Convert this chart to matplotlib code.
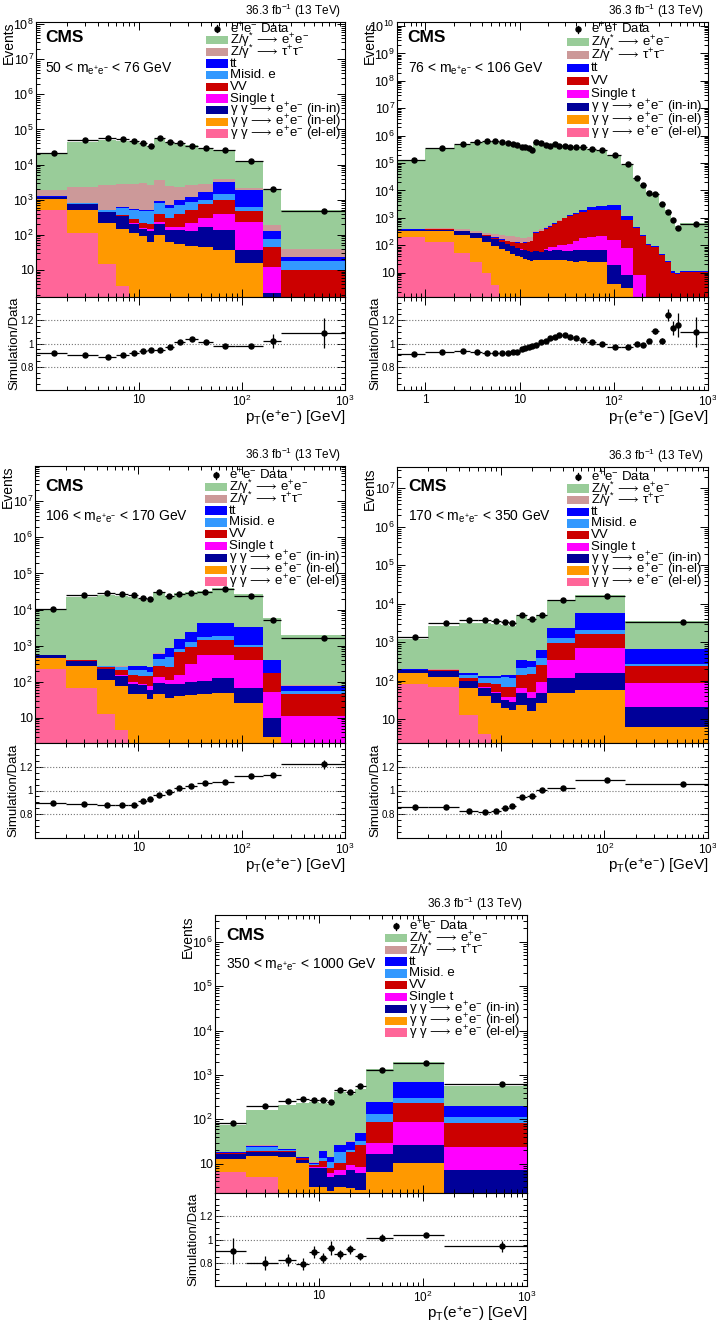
import numpy as np
import matplotlib
matplotlib.use('Agg')
import matplotlib.pyplot as plt
from matplotlib.ticker import FixedLocator, LogLocator, FuncFormatter, MultipleLocator, NullFormatter
from matplotlib.patches import Rectangle

plt.rcParams['font.family'] = ['Liberation Sans', 'DejaVu Sans']
plt.rcParams['mathtext.fontset'] = 'custom'
plt.rcParams['mathtext.rm'] = 'Liberation Sans'
plt.rcParams['mathtext.it'] = 'Liberation Sans:italic'
plt.rcParams['mathtext.bf'] = 'Liberation Sans:bold'
plt.rcParams['mathtext.fallback'] = 'stixsans'
plt.rcParams['axes.linewidth'] = 0.8

# ---- 50 < m < 76 GeV
edges_50 = [1, 2, 4, 6, 8, 10, 12, 14, 18, 22, 28, 37, 52, 85, 160, 240, 1000]
data_50 = [2.2e4, 5.0e4, 5.7e4, 5.2e4, 4.7e4, 4.1e4, 3.5e4, 5.8e4, 4.4e4, 4.1e4, 3.5e4, 2.9e4, 2.6e4, 1.3e4, 2.0e3, 470]
ratio_50 = [0.92, 0.90, 0.885, 0.90, 0.915, 0.935, 0.945, 0.945, 0.97, 1.01, 1.035, 1.01, 0.975, 0.98, 1.02, 1.09]
rerr_50 = [0.006, 0.005, 0.005, 0.005, 0.005, 0.006, 0.006, 0.006, 0.006, 0.007, 0.007, 0.008, 0.008, 0.01, 0.06, 0.13]
zee_50 = [18380, 42760, 47750, 43950, 40240, 35435, 30375, 51260, 40180, 39110, 33655, 26440, 21550, 10540, 1850, 471]
ztt_50 = [620, 1440, 2175, 2230, 2200, 2400, 2200, 2640, 1770, 1320, 1370, 1200, 570, 340, 60, 18]
tt_50 = [10, 10, 10, 20, 35, 30, 30, 80, 130, 250, 330, 650, 1730, 1230, 56, 5]
misid_50 = [15, 30, 60, 225, 250, 252, 270, 425, 305, 325, 370, 260, 500, 160, 28, 7.5]
vv_50 = [10, 10, 12, 30, 55, 58, 55, 172, 125, 235, 285, 445, 595, 237, 34, 10]
st_50 = [3, 3, 3, 5, 10, 8, 16, 33, 30, 35, 85, 125, 270, 196, 10, 0.3]
inin_50 = [130, 215, 215, 190, 95, 60, 66, 104, 77, 80, 81, 126, 98, 21, 1.2, 0]
inel_50 = [545, 415, 210, 145, 114, 91, 63, 96, 63, 55, 49, 44, 37, 15.5, 1.0, 0]
elel_50 = [525, 110, 14.5, 3.5, 1, 0.5, 0.3, 0, 0, 0, 0, 0, 0, 0, 0, 0]

# ---- 76 < m < 106 GeV
edges_76 = [0.5, 1, 2, 3, 4, 5, 6, 7, 8, 9, 10, 11, 12, 13, 14, 16, 18, 20, 22, 25, 28, 32, 37, 43,
            52, 65, 85, 120, 160, 190, 220, 250, 300, 350, 400, 450, 500, 1000]
data_76 = [1.3e5, 3.5e5, 5.0e5, 6.1e5, 6.3e5, 6.3e5, 5.8e5, 5.3e5, 4.8e5, 4.4e5, 4.0e5, 3.7e5, 3.4e5,
           3.1e5, 6.0e5, 5.3e5, 4.6e5, 4.2e5, 5.0e5, 4.3e5, 4.2e5, 4.0e5, 3.9e5, 3.9e5, 3.3e5, 2.9e5,
           2.05e5, 8.9e4, 2.85e4, 1.55e4, 8.3e3, 7.3e3, 3.3e3, 1.6e3, 830, 435, 590]
ratio_76 = [0.911, 0.926, 0.934, 0.926, 0.92, 0.92, 0.917, 0.92, 0.929, 0.931, 0.949, 0.957, 0.971,
            0.98, 0.989, 1.011, 1.023, 1.049, 1.054, 1.071, 1.069, 1.057, 1.051, 1.029, 1.009, 0.994,
            0.974, 0.969, 0.994, 0.986, 1.02, 1.106, 1.02, 1.243, 1.134, 1.16, 1.10]
rerr_76 = [0.004, 0.003, 0.003, 0.003, 0.003, 0.003, 0.003, 0.003, 0.003, 0.003, 0.003, 0.003, 0.003,
           0.003, 0.003, 0.003, 0.003, 0.003, 0.003, 0.003, 0.003, 0.003, 0.003, 0.003, 0.003, 0.003,
           0.004, 0.005, 0.008, 0.01, 0.015, 0.02, 0.025, 0.05, 0.06, 0.1, 0.13]
zee_76 = [118030, 323680, 466620, 564530, 579310, 579350, 531630, 487380, 445710, 409440, 379410,
          353900, 329950, 303600, 593060, 535450, 470130, 440050, 526340, 459720, 447950, 421520,
          408330, 399350, 330560, 285450, 196770, 85040, 27850, 15040, 8360, 7970, 3326, 1963, 929, 495, 639]
ztt_76 = [20, 25, 35, 40, 50, 55, 65, 75, 75, 70, 65, 60, 60, 55, 45, 40, 30, 20, 20, 15, 10, 10, 10,
          10, 10, 10, 5, 2, 0, 0, 0, 0, 0, 0, 0, 0, 0]
tt_76 = [10, 10, 5, 5, 5, 5, 5, 5, 5, 5, 5, 5, 5, 5, 15, 15, 20, 30, 40, 50, 70, 120, 150, 250, 500,
         850, 960, 350, 40, 20, 10, 8, 4, 2, 1, 1, 1]
vv_76 = [9, 14, 9, 14, 14, 19, 24, 29, 34, 44, 49, 59, 69, 81, 218, 272, 325, 395, 510, 650, 845, 1040,
         1260, 1520, 1700, 1735, 1785, 772, 432, 212, 99, 89, 45, 25, 10, 9, 10]
st_76 = [1, 1, 1, 1, 1, 1, 1, 1, 1, 1, 1, 1, 1, 1, 2, 3, 10, 25, 25, 35, 45, 50, 70, 115, 135, 150,
         135, 70, 8.3, 8.3, 1, 0.5, 0.3, 0.2, 0.1, 0.1, 0.2]
inin_76 = [20, 30, 90, 90, 90, 75, 60, 50, 45, 38, 34, 33, 32, 32, 30, 27, 35, 32, 35, 35, 32, 33, 45,
           39, 40, 41, 16, 5.5, 0, 0, 0, 0, 0, 0, 0, 0, 0]
inel_76 = [135, 212, 189, 155, 120, 91, 74, 60, 50, 42, 36, 32, 28, 26, 30, 28, 30, 28, 30, 30, 28, 27,
           25, 26, 25, 24, 3.8, 2.8, 0, 0, 0, 0, 0, 0, 0, 0, 0]
elel_76 = [205, 128, 51, 25, 9.5, 3.6, 1, 0, 0, 0, 0, 0, 0, 0, 0, 0, 0, 0, 0, 0, 0, 0, 0, 0, 0, 0, 0,
           0, 0, 0, 0, 0, 0, 0, 0, 0, 0]

# ---- 106 < m < 170 GeV
edges_106 = [1, 2, 4, 6, 8, 10, 12, 14, 18, 22, 28, 37, 52, 85, 160, 240, 1000]
data_106 = [1.06e4, 2.5e4, 2.9e4, 2.75e4, 2.5e4, 2.15e4, 1.9e4, 3.1e4, 2.4e4, 2.75e4, 2.9e4, 3.1e4, 3.6e4, 2.4e4, 5.0e3, 1.6e3]
ratio_106 = [0.895, 0.889, 0.881, 0.875, 0.878, 0.915, 0.926, 0.96, 0.989, 1.02, 1.034, 1.062, 1.071, 1.122, 1.128, 1.221]
rerr_106 = [0.008, 0.006, 0.005, 0.005, 0.006, 0.006, 0.007, 0.006, 0.006, 0.006, 0.006, 0.006, 0.006, 0.007, 0.015, 0.04]
zee_106 = [8920, 21800, 25270, 23800, 21680, 19400, 17330, 29150, 22860, 26540, 27580, 28560, 34200, 23620, 5240, 1870]
ztt_106 = [5, 5, 5, 5, 5, 5, 5, 10, 10, 10, 10, 10, 10, 10, 5, 3]
tt_106 = [3, 3, 5, 5, 60, 55, 71, 185, 380, 670, 1130, 2610, 2530, 2270, 225, 20]
misid_106 = [5, 8, 15, 45, 60, 75, 41, 145, 233, 185, 350, 270, 400, 140, 5, 12]
vv_106 = [5, 5, 20, 60, 50, 51, 67, 138, 147, 495, 620, 930, 860, 480, 117, 34]
st_106 = [2, 2, 2, 5, 11, 10, 18, 39, 24, 61, 201, 435, 437, 345, 43, 11]
inin_106 = [80, 105, 115, 68, 42, 34, 28, 48, 51, 49, 57, 60, 74, 39, 7, 0]
inel_106 = [235, 207, 102, 72.5, 46, 44.5, 32, 45, 35, 40, 42, 45, 49, 26, 3, 0]
elel_106 = [232, 68, 13, 4.5, 1, 0.5, 0.3, 0.2, 0.1, 0, 0, 0, 0, 0, 0, 0]

# ---- 170 < m < 350 GeV
edges_170 = [1, 2, 4, 6, 8, 10, 12, 14, 18, 22, 28, 52, 160, 1000]
data_170 = [1.4e3, 3.1e3, 3.9e3, 3.9e3, 3.6e3, 3.3e3, 3.1e3, 5.0e3, 4.1e3, 5.0e3, 1.23e4, 1.58e4, 3.4e3]
ratio_170 = [0.858, 0.861, 0.827, 0.821, 0.827, 0.852, 0.867, 0.946, 0.955, 1.003, 1.017, 1.085, 1.051]
rerr_170 = [0.02, 0.015, 0.012, 0.012, 0.012, 0.013, 0.013, 0.01, 0.012, 0.01, 0.007, 0.006, 0.015]
zee_170 = [1000, 2470, 3070, 3070, 2850, 2670, 2550, 4390, 3580, 4390, 10100, 11530, 2920]
ztt_170 = [2, 2, 2, 2, 2, 2, 2, 3, 3, 5, 5, 5, 2]
tt_170 = [3, 3, 15, 10, 12, 12, 22, 122, 100, 240, 1080, 3550, 380]
misid_170 = [3, 3, 25, 33, 37, 57, 50, 80, 82, 130, 390, 450, 30]
vv_170 = [4, 5, 14, 20, 29, 31, 31, 72, 97, 156, 590, 910, 153]
st_170 = [1, 1, 3, 4, 5, 6, 10, 18, 15, 47, 225, 536, 66]
inin_170 = [25, 57, 33, 23, 21, 12, 11, 25, 19.5, 21, 68, 95, 15]
inel_170 = [81, 57, 52, 36, 26, 20, 17, 23, 16.5, 26, 47, 59, 6.2]
elel_170 = [81, 69, 12.6, 4.1, 0, 0, 0, 0, 0, 0, 0, 0, 0]

# ---- 350 < m < 1000 GeV
edges_350 = [1, 2, 4, 6, 8, 10, 12, 14, 18, 22, 28, 52, 160, 1000]
data_350 = [81, 205, 262, 290, 280, 280, 240, 470, 405, 560, 1320, 1870, 615]
ratio_350 = [0.90, 0.80, 0.826, 0.789, 0.891, 0.84, 0.926, 0.871, 0.914, 0.857, 1.014, 1.04, 0.94]
rerr_350 = [0.11, 0.06, 0.05, 0.05, 0.05, 0.04, 0.06, 0.04, 0.04, 0.03, 0.03, 0.02, 0.05]
zee_350 = [54.5, 138, 195, 215.5, 238.5, 216, 208, 382.5, 338, 430, 1089, 1233, 377]
ztt_350 = [0.3, 0.3, 0.3, 0.2, 0.2, 0.3, 0.3, 0.3, 0.3, 0.5, 1, 2, 1]
tt_350 = [0.5, 2, 1, 0.5, 0.5, 5.6, 3, 7.5, 11, 18, 116, 400, 85]
misid_350 = [0.5, 4.4, 1, 0.3, 0.5, 2, 3, 8.3, 2, 6, 45, 80, 34]
vv_350 = [0.5, 0.5, 0.5, 1.2, 1, 3, 1.8, 3.0, 9.1, 17.4, 60, 142, 57]
st_350 = [0.3, 0.3, 0.5, 0.3, 0.5, 0.5, 1.0, 1.6, 2.3, 2.5, 12, 62, 17]
inin_350 = [3.5, 3.8, 3.5, 1.5, 5, 4.9, 2.6, 2.6, 4.4, 3.5, 10.4, 15.8, 6.7]
inel_350 = [6.4, 9.7, 14.5, 10.5, 3, 3, 2.5, 3.0, 2.8, 2.6, 6.6, 10.2, 0.5]
elel_350 = [6.6, 5.1, 0, 0, 0, 0, 0, 0, 0, 0, 0, 0, 0]

# colours / labels
c_zee, c_ztt, c_tt, c_misid, c_vv = '#99cc99', '#cc9999', '#0000ff', '#3399ff', '#cc0000'
c_st, c_inin, c_inel, c_elel = '#ff00ff', '#000099', '#ff9900', '#ff6699'
lab_zee = r'Z/γ$^{*}\,\longrightarrow\,$e$^{+}$e$^{-}$'
lab_ztt = r'Z/γ$^{*}\,\longrightarrow\,$τ$^{+}$τ$^{-}$'
lab_tt = 'tt'
lab_misid = 'Misid. e'
lab_vv = 'VV'
lab_st = 'Single t'
lab_inin = r'γ γ$\,\longrightarrow\,$e$^{+}$e$^{-}$ (in-in)'
lab_inel = r'γ γ$\,\longrightarrow\,$e$^{+}$e$^{-}$ (in-el)'
lab_elel = r'γ γ$\,\longrightarrow\,$e$^{+}$e$^{-}$ (el-el)'

W, H = 716, 1326
fig = plt.figure(figsize=(W / 100, H / 100), dpi=100)


def log_label(v, pos):
    e = int(round(np.log10(v)))
    if e == 0:
        return '1'
    if e == 1:
        return '10'
    return r'$10^{%d}$' % e


def draw_panel(box, edges, data, ratio, rerr, comps, ylim, mass, leg, cms, xlab_min):
    x0, x1, yt, ym, yb = box
    wpx, hpx = x1 - x0, ym - yt
    ax = fig.add_axes([x0 / W, 1 - ym / H, wpx / W, hpx / H])
    rax = fig.add_axes([x0 / W, 1 - yb / H, wpx / W, (yb - ym) / H])
    edges = np.array(edges, float)
    lo, hi = edges[:-1], edges[1:]
    cen = 0.5 * (lo + hi)

    # stack, bottom first
    bottom = np.full(len(cen), 1e-3)
    for vals, col, lab in comps:
        top = bottom + np.array(vals, float)
        ax.stairs(top, edges, baseline=bottom, fill=True, color=col, lw=0)
        bottom = top

    ax.errorbar(cen, data, xerr=[cen - lo, hi - cen], fmt='o', color='k', ms=3.6,
                elinewidth=0.9, capsize=0, zorder=5)

    ax.set_yscale('log')
    ax.set_ylim(*ylim)
    ax.yaxis.set_major_locator(FixedLocator([10.0 ** k for k in range(0, 12)]))
    ax.yaxis.set_major_formatter(FuncFormatter(log_label))
    ax.yaxis.set_minor_locator(LogLocator(base=10, subs=np.arange(2, 10), numticks=100))
    ax.yaxis.set_minor_formatter(NullFormatter())

    for a in (ax, rax):
        a.set_xscale('log')
        a.set_xlim(edges[0], edges[-1])
        a.xaxis.set_major_locator(FixedLocator([0.1, 1, 10, 100, 1000]))
        a.xaxis.set_minor_locator(LogLocator(base=10, subs=np.arange(2, 10), numticks=100))
        a.xaxis.set_minor_formatter(NullFormatter())
        a.tick_params(which='both', direction='in', top=True, right=True, width=0.7)
        a.tick_params(which='major', length=6)
        a.tick_params(which='minor', length=3)
    ax.tick_params(axis='x', labelbottom=False)
    ax.tick_params(axis='y', labelsize=9, pad=1.5)
    rax.xaxis.set_major_formatter(FuncFormatter(lambda v, p: log_label(v, p) if v >= xlab_min else ''))
    rax.tick_params(axis='x', labelsize=8.5, pad=3)

    # ratio pad
    rax.errorbar(cen, ratio, xerr=[cen - lo, hi - cen], yerr=rerr, fmt='o', color='k', ms=3.6,
                 elinewidth=0.9, capsize=0, zorder=5)
    for g in (0.8, 1.0, 1.2):
        rax.axhline(g, color='0.45', ls=':', lw=0.8)
    rax.set_ylim(0.6, 1.4)
    rax.yaxis.set_major_locator(FixedLocator([0.8, 1.0, 1.2]))
    rax.yaxis.set_major_formatter(FuncFormatter(lambda v, p: '1' if abs(v - 1) < 1e-6 else '%g' % v))
    rax.yaxis.set_minor_locator(MultipleLocator(0.05))
    rax.tick_params(axis='y', labelsize=7, pad=1.5)
    rax.set_xlabel(r'p$_{\mathrm{T}}$(e$^{+}$e$^{-}$) [GeV]', loc='right', fontsize=11, labelpad=0)
    rax.set_ylabel('Simulation/Data', fontsize=9.5)
    rax.yaxis.set_label_coords(-16 / wpx, 0.5)
    ax.set_ylabel('Events', fontsize=10, loc='top')
    ax.yaxis.set_label_coords(-20 / wpx, 1.0)

    # texts
    ax.text(1 - 4 / wpx, 1 + 11 / hpx, r'36.3 fb$^{-1}$ (13 TeV)', transform=ax.transAxes,
            ha='right', va='center', fontsize=8.5)
    ax.text(cms[0] / wpx, 1 - cms[1] / hpx, 'CMS', transform=ax.transAxes, ha='left',
            va='center', fontsize=12.5, fontweight='bold')
    ax.text(cms[0] / wpx, 1 - cms[2] / hpx, mass, transform=ax.transAxes, ha='left',
            va='center', fontsize=10)

    # legend, drawn row by row like the ROOT one
    y0, dy = leg
    entries = [('data', 'k', 'e$^{+}$e$^{-}$ Data')] + [(None, c, l) for v, c, l in comps[::-1]]
    for i, (kind, col, lab) in enumerate(entries):
        yy = 1 - (y0 + i * dy) / hpx
        if kind == 'data':
            ax.plot([181 / wpx], [yy], 'o', color='k', ms=3.6, transform=ax.transAxes, clip_on=False)
            ax.plot([181 / wpx] * 2, [yy - 3.5 / hpx, yy + 3.5 / hpx], color='k', lw=0.9,
                    transform=ax.transAxes, clip_on=False)
        else:
            ax.add_patch(Rectangle((170 / wpx, yy - 4.2 / hpx), 22 / wpx, 8.4 / hpx, color=col,
                                   transform=ax.transAxes, clip_on=False, lw=0))
        ax.text(194 / wpx, yy, lab, transform=ax.transAxes, ha='left', va='center', fontsize=9.5)


def stack(elel, inel, inin, st, vv, misid, tt, ztt, zee):
    out = [(elel, c_elel, lab_elel), (inel, c_inel, lab_inel), (inin, c_inin, lab_inin),
           (st, c_st, lab_st), (vv, c_vv, lab_vv)]
    if misid is not None:
        out.append((misid, c_misid, lab_misid))
    out += [(tt, c_tt, lab_tt), (ztt, c_ztt, lab_ztt), (zee, c_zee, lab_zee)]
    return out


draw_panel((36, 345, 22, 297, 390), edges_50, data_50, ratio_50, rerr_50,
           stack(elel_50, inel_50, inin_50, st_50, vv_50, misid_50, tt_50, ztt_50, zee_50),
           (1.7, 1.15e8), r'50 < m$_{\mathrm{e}^{+}\mathrm{e}^{-}}$ < 76 GeV', (6.5, 11.67), (9, 15.5, 46.5), 10)
draw_panel((397, 708, 22, 297, 390), edges_76, data_76, ratio_76, rerr_76,
           stack(elel_76, inel_76, inin_76, st_76, vv_76, None, tt_76, ztt_76, zee_76),
           (1.3, 1.4e10), r'76 < m$_{\mathrm{e}^{+}\mathrm{e}^{-}}$ < 106 GeV', (7.3, 12.9), (10.5, 15.5, 46.5), 1)
draw_panel((35, 345, 466, 743, 838), edges_106, data_106, ratio_106, rerr_106,
           stack(elel_106, inel_106, inin_106, st_106, vv_106, misid_106, tt_106, ztt_106, zee_106),
           (2.0, 9.5e7), r'106 < m$_{\mathrm{e}^{+}\mathrm{e}^{-}}$ < 170 GeV', (9, 11.85), (10, 20.5, 50.5), 10)
draw_panel((397, 708, 467, 743, 838), edges_170, data_170, ratio_170, rerr_170,
           stack(elel_170, inel_170, inin_170, st_170, vv_170, misid_170, tt_170, ztt_170, zee_170),
           (2.4, 3.6e7), r'170 < m$_{\mathrm{e}^{+}\mathrm{e}^{-}}$ < 350 GeV', (9.7, 11.7), (11.5, 19.5, 49.5), 10)
draw_panel((215, 527, 915, 1193, 1286), edges_350, data_350, ratio_350, rerr_350,
           stack(elel_350, inel_350, inin_350, st_350, vv_350, misid_350, tt_350, ztt_350, zee_350),
           (2.2, 4e6), r'350 < m$_{\mathrm{e}^{+}\mathrm{e}^{-}}$ < 1000 GeV', (11, 11.85), (11.5, 20, 50), 10)

fig.savefig('out.png', dpi=100, facecolor='white')
